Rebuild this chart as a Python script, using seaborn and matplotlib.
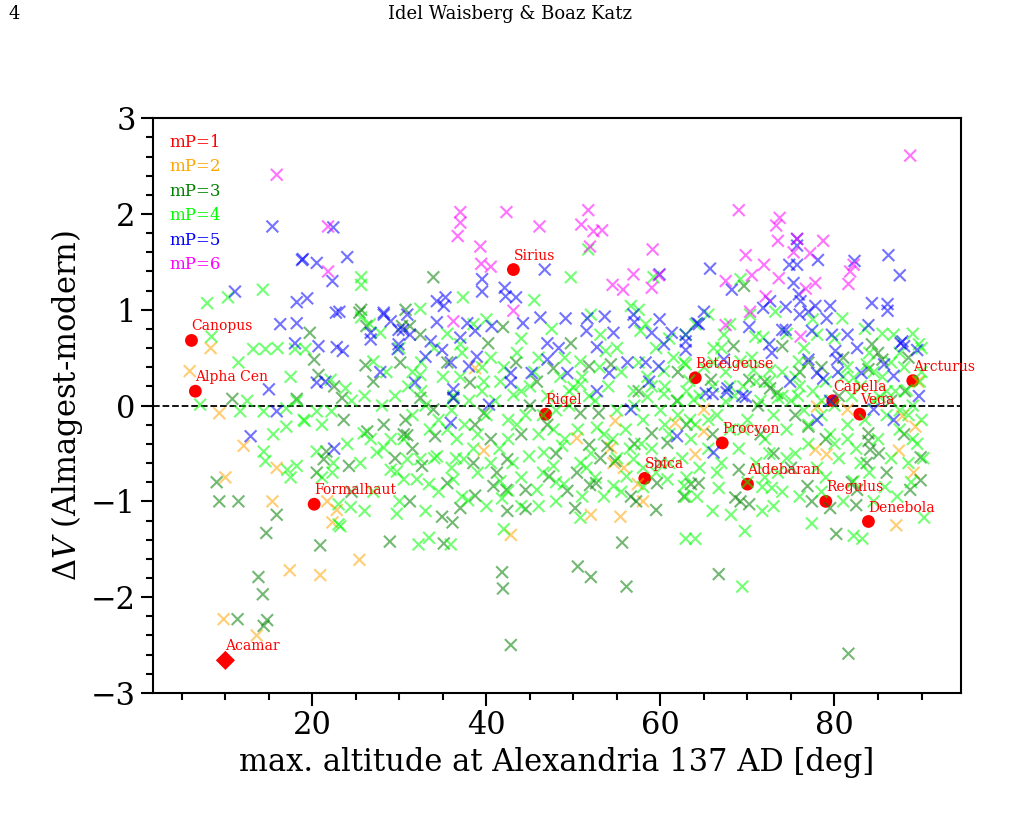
import numpy as np
import pandas as pd
import matplotlib
matplotlib.use("Agg")
import matplotlib.pyplot as plt
import seaborn as sns
from matplotlib.ticker import MultipleLocator
from matplotlib.lines import Line2D

# --- data: (max altitude [deg], delta V) per Ptolemy magnitude class ---
mp2_x = [8.3, 5.9, 9.3, 12.1, 15.9, 10.0, 15.4, 21.7, 22.8, 22.3, 25.4, 17.4, 20.9, 9.8, 13.6,
         42.8, 52.0, 55.4, 58.0, 57.4, 54.6, 55.8, 50.4, 39.7, 54.8, 54.3, 61.7, 89.6, 65.0, 87.1,
         89.1, 87.4, 89.3, 87.8, 65.0, 77.8, 79.1, 64.0, 38.7, 81.5, 78.0]
mp2_y = [0.60, 0.36, -0.08, -0.42, -0.65, -0.75, -1.00, -1.00, -1.09, -1.22, -1.61, -1.72, -1.77, -2.23, -2.40,
         -1.35, -1.14, -1.16, -1.00, -0.82, -0.60, -0.65, -0.34, -0.47, -0.16, -0.44, -0.18, 0.25, -0.04, -1.25,
         -0.70, -0.47, -0.22, -0.11, -0.27, -0.46, -0.51, -0.51, 0.39, -0.04, -0.01]

mp3_x = [25.6, 26.2, 30.7, 30.3, 19.7, 10.8, 18.2, 9.0, 9.3, 11.5, 15.9, 21.3, 21.6, 24.2, 20.5,
         26.3, 28.2, 30.5, 23.6, 20.2, 20.7, 22.5, 23.4, 25.4, 26.1, 30.1,
         14.7, 20.9, 28.9, 13.8, 14.3, 11.4, 14.8, 14.4,
         33.9, 31.2, 32.4, 40.2, 41.9, 43.4, 47.7, 49.7, 51.8, 54.3, 38.1, 45.8, 32.4, 36.2, 61.9,
         68.4, 84.3, 85.5, 65.8, 70.2, 72.0, 72.6, 73.4, 83.9, 88.1, 71.2, 69.6,
         42.8, 41.8, 41.9, 50.5, 52.0, 56.1, 55.6, 35.1, 34.9, 36.1, 31.2, 37.0, 38.7, 42.4, 44.5,
         44.5, 40.8, 41.2, 42.3, 42.4, 35.5, 32.6, 34.1, 30.9, 30.7, 38.5, 40.5, 47.2, 49.3, 50.2,
         50.4, 51.9, 52.6, 51.8, 53.1, 53.9, 56.6, 57.2, 59.5, 59.6, 62.7, 63.5, 59.0, 60.8, 47.0,
         50.8, 52.9, 33.9, 38.7, 39.7, 54.8,
         81.6, 66.7, 80.2, 77.4, 76.9, 79.5, 82.5, 68.6, 69.2, 70.2, 69.0, 64.4, 82.0, 82.6, 83.9,
         83.9, 84.1, 83.7, 85.1, 89.9, 89.9, 88.7, 77.0,
         88.0, 86.5, 80.5, 75.5, 73.0, 66.0, 63.0, 78.5, 76.0, 62.0, 57.5, 45.0, 35.5, 27.0, 29.5,
         24.5, 31.5, 48.0, 44.0, 57.0, 60.0, 71.5, 75.0, 79.0, 86.0, 81.0, 88.5, 85.0, 74.0, 77.0]
mp3_y = [1.00, 0.83, 1.00, 0.83, 0.76, 0.07, 0.07, -0.80, -1.00, -1.00, -1.14, -0.56, -0.48, -0.63, -0.70,
         -0.27, -0.20, -0.30, -0.15, 0.48, 0.32, 0.20, 0.08, 0.97, 0.42, 0.45,
         -1.33, -1.46, -1.42, -1.79, -1.97, -2.23, -2.24, -2.30,
         1.34, 0.83, 0.74, 0.65, 0.82, 0.45, 0.39, 0.65, 0.41, 0.43, 0.24, 0.25, 0.08, 0.08, 0.05,
         0.62, 0.64, 0.48, 0.27, 0.27, 0.25, 0.18, 0.13, 0.38, 0.15, 0.00, 1.25,
         -2.50, -1.74, -1.91, -1.68, -1.79, -1.89, -1.43, -1.44, -1.16, -1.22, -1.00, -1.07, -0.94, -1.10, -1.08,
         -0.88, -0.84, -0.70, -0.88, -0.56, -0.81, -0.63, -0.32, -0.31, -0.15, -0.60, -0.35, -0.74, -0.89, -1.07,
         -0.70, -0.83, -0.81, -0.41, -0.55, -0.42, -0.95, -1.00, -1.09, -0.81, -0.95, -0.82, -0.29, -0.39, -0.20,
         -0.08, -0.08, -0.04, -0.20, -0.08, -0.58,
         -2.59, -1.76, -1.34, -1.00, -0.84, -1.07, -1.04, -0.96, -1.00, -1.03, -0.67, -0.81, -0.80, -0.88, -0.29,
         -0.37, -0.46, -0.60, -0.50, -0.54, -0.78, -0.88, -0.22,
         -0.30, 0.05, 0.10, -0.10, -0.50, -0.30, -0.20, 0.40, 0.35, 0.35, 0.15, 0.00, 0.45, 0.25, -0.55,
         -0.90, -0.45, -0.50, -0.30, -0.40, -0.60, -0.30, -0.65, -0.35, -0.70, 0.50, 0.50, 0.55, 0.62, 0.45]

mp4_x = [25.6, 25.6, 7.9, 10.3, 14.3, 25.6, 26.6, 27.8, 8.4, 11.5, 13.2, 14.6, 7.1, 11.7, 14.4,
         17.0, 18.2, 19.1, 17.0, 14.4, 14.6, 17.1, 18.2, 17.5, 20.5, 22.4, 22.3, 21.1, 25.9, 26.7,
         28.2, 27.4, 29.0, 29.0, 29.7, 30.9, 21.1, 19.0, 20.5, 22.2, 22.1, 23.8, 18.0, 19.2, 27.0,
         23.0, 24.4, 23.0, 23.2, 29.7,
         51.7, 49.7, 37.3, 32.4, 56.6, 59.2, 37.0, 37.2, 39.7, 41.6, 46.0, 50.8, 53.1, 53.7, 58.3,
         57.7, 60.4, 62.9, 62.7, 63.8, 50.8, 50.0, 51.8, 32.4, 39.5, 43.1, 56.9, 60.4, 58.5, 36.2,
         69.2, 70.3, 73.2, 80.9, 86.8, 89.7, 67.3, 66.1, 70.9, 71.8, 62.9, 66.1, 69.2, 70.7, 72.6,
         75.9, 78.0, 82.2, 83.7, 85.2, 88.3, 63.3, 67.5, 73.5, 75.8,
         32.2, 33.4, 35.9, 42.0, 50.8, 62.9, 64.0, 30.5, 32.0, 33.4, 36.2, 37.2, 37.9, 32.4, 34.3,
         37.4, 41.6, 42.5, 41.8, 43.5, 44.9, 46.6, 45.8, 47.7, 48.9, 50.8, 48.7, 47.7, 54.6, 56.1,
         56.9, 52.7, 57.8, 60.8, 62.7, 63.4, 36.6, 42.5,
         69.4, 69.7, 68.1, 71.7, 77.4, 82.2, 83.2, 90.3, 66.7, 71.7, 72.8, 62.9, 64.2, 82.2,
         31.0, 33.0, 34.5, 35.0, 36.0, 37.5, 38.0, 39.0, 40.0, 41.0, 41.5, 42.0, 43.0, 44.0, 44.5,
         45.5, 46.0, 47.0, 48.0, 48.5, 49.0, 49.5, 50.5, 51.0, 52.0, 52.5, 53.5, 54.0, 55.0, 55.5,
         56.0, 57.0, 58.0, 58.5, 59.0, 60.0, 60.5, 61.0, 61.5, 62.0, 62.5, 63.0, 64.0, 64.5, 65.5,
         66.0, 66.5, 67.0, 67.5, 68.0, 68.5, 69.0, 69.5, 70.0, 70.5, 71.0, 71.5, 72.0, 72.5, 73.0,
         73.5, 74.0, 74.5, 75.0, 75.5, 76.0, 76.5, 77.0, 77.5, 78.0, 78.5, 79.0, 79.5, 80.0, 80.5,
         81.0, 81.5, 82.0, 82.5, 83.0, 83.5, 84.0, 84.5, 85.0, 85.5, 86.0, 86.5, 87.0, 87.5, 88.0,
         88.5, 89.0, 89.5, 90.0, 90.2, 89.8, 88.8, 87.2, 85.8, 84.5, 81.0, 78.5, 76.0, 74.0, 73.0,
         66.0, 64.5, 61.0, 59.5, 58.0, 55.5, 53.5, 51.0, 48.0, 46.0, 44.0, 40.0, 39.0, 36.0, 34.5,
         33.0, 30.0, 27.0, 26.0, 25.5, 24.0, 24.5, 26.0, 28.0, 29.5, 31.5, 32.5, 34.0, 35.5, 38.5,
         40.5, 44.0, 47.5, 52.0, 55.0, 59.5, 64.0, 65.5, 68.0, 74.5, 77.5, 80.0, 83.5, 85.5, 87.5,
         89.0, 57.5, 45.5, 40.0, 30.0, 28.5, 12.5, 15.5, 17.5, 16.0,
         30.5, 32.5, 34.0, 35.5, 37.0, 38.5, 40.5, 42.5, 44.0, 45.0, 46.5, 48.0, 49.5, 51.5, 53.0,
         54.5, 56.5, 57.5, 59.0, 60.5, 62.0, 63.5, 65.0, 66.5, 68.0, 69.5, 71.0, 72.5, 74.0, 75.5,
         77.0, 78.5, 80.0, 81.5, 83.0, 84.5, 86.0, 87.5, 89.0, 90.0,
         31.5, 33.5, 36.5, 39.5, 43.5, 46.5, 49.0, 52.5, 55.0, 58.0, 61.0, 63.0, 65.5, 67.0, 70.0,
         72.0, 74.5, 76.5, 79.0, 81.5, 84.0, 86.5, 88.5, 90.0]
mp4_y = [1.34, 1.26, 1.07, 1.13, 1.21, 0.92, 0.85, 0.76, 0.72, 0.45, 0.59, 0.59, 0.01, -0.06, -0.06,
         -0.22, 0.05, -0.16, -0.03, -0.48, -0.58, -0.67, -0.63, -0.75, -0.48, -0.60, -0.70, -0.75, -0.29, -0.35,
         -0.44, -0.49, -0.35, -0.67, -0.69, -0.56, -0.20, -0.15, -0.06, -0.06, 0.27, 0.18, 0.59, 0.59, 0.46,
         -1.03, -1.06, -1.24, -1.26, -1.13,
         1.63, 1.34, 1.13, 1.01, 1.04, 1.34, 0.64, 0.55, 0.25, 0.25, 0.50, 0.22, 0.74, 0.57, 0.85,
         0.78, 0.36, 0.74, 0.45, 0.06, 0.46, 0.19, 0.10, 0.32, 0.15, 0.11, 0.15, 0.12, 0.09, 0.10,
         1.32, 0.95, 0.98, 0.91, 0.74, 0.64, 0.74, 0.60, 0.72, 0.71, 0.43, 0.45, 0.46, 0.37, 0.37,
         0.46, 0.74, 0.29, 0.43, 0.09, 0.16, 0.26, 0.04, 0.08, 0.10,
         -1.45, -1.38, -1.45, -1.29, -1.17, -1.39, -1.39, -0.77, -0.77, -0.82, -0.77, -0.95, -0.99, -0.56, -0.53,
         -0.56, -0.79, -0.89, -0.97, -0.20, -0.53, -0.49, -0.88, -0.63, -0.82, -0.60, -0.42, -0.25, -0.84, -0.74,
         -0.56, -0.23, -0.40, -0.77, -0.84, -0.15, -0.35, -0.35,
         -1.89, -1.31, -1.14, -1.10, -1.23, -1.36, -1.39, -1.17, -0.86, -0.85, -0.86, -0.95, -0.95, -0.79,
         0.20, 0.00, -0.15, 0.30, -0.05, -0.20, 0.05, -0.30, -0.10, 0.05, -0.45, 0.40, -0.60, 0.15, -0.10,
         0.35, -0.30, 0.10, -0.05, 0.30, -0.35, 0.00, -0.25, 0.30, -0.50, 0.05, -0.30, 0.20, -0.05, 0.35,
         -0.25, 0.00, -0.15, 0.30, -0.45, -0.05, 0.20, -0.30, 0.50, -0.10, -0.55, 0.15, -0.20, 0.10, -0.45,
         0.20, -0.10, -0.60, 0.35, -0.25, 0.10, -0.45, 0.20, -0.15, 0.50, -0.60, 0.05, -0.35, 0.25, -0.10,
         -0.70, 0.35, -0.25, 0.05, -0.50, 0.20, -0.05, -0.40, 0.15, -0.65, -0.10, 0.25, -0.30, 0.00, -0.55,
         0.30, -0.20, 0.10, -0.45, 0.20, -0.15, -0.70, 0.05, -0.35, 0.30, -0.10, -0.55, 0.15, -0.25, 0.40,
         -0.60, 0.00, -0.40, -0.15, -0.55, 0.25, -0.80, -0.95, -0.85, -1.00, -1.00, -0.90, -0.95, -0.90, -1.05,
         -1.10, -0.65, -0.60, -0.70, -0.65, -0.90, -0.95, -0.95, -1.00, -1.05, -1.05, -1.05, -0.70, -0.65, -0.90,
         -1.10, -1.00, -0.90, -1.10, -0.60, -0.40, 0.05, 0.10, 0.00, 0.10, -0.10, 0.45, 0.60, 0.75, 0.85,
         0.50, 0.70, 0.80, 0.95, 0.60, 0.60, 0.85, 0.95, 0.85, 0.75, 0.90, 0.70, 0.80, 0.75, 0.55,
         0.75, 1.00, 1.10, 0.90, 0.60, 0.35, 0.05, -0.30, 0.30, 0.60,
         -0.35, 0.15, -0.55, -0.25, 0.30, -0.45, -0.60, -0.15, -0.75, 0.20, -0.10, -0.80, 0.15, -0.65, 0.40,
         -0.35, -0.45, 0.45, 0.20, -0.20, 0.05, -0.35, 0.40, -0.70, 0.20, -0.25, 0.25, -0.50, 0.10, 0.30,
         -0.20, 0.05, -0.40, 0.40, -0.60, 0.35, 0.15, -0.05, -0.35, 0.60,
         0.35, -0.25, -0.55, 0.40, 0.55, -0.70, 0.50, -0.75, -0.55, -0.85, 0.70, -0.75, -0.15, 0.60, -0.80,
         -0.75, -0.55, 0.60, -0.75, -0.35, 0.55, 0.45, -0.10, 0.35]

mp5_x = [15.4, 22.4, 18.8, 18.9, 20.5, 24.0, 22.3, 11.1, 18.2, 19.4, 23.1, 28.2, 29.0, 29.9, 30.9,
         16.3, 18.2, 26.7, 29.9, 15.0, 15.9, 12.9, 22.5, 20.5, 21.5, 18.0, 20.7, 22.8, 23.5, 22.7,
         28.2, 26.7, 29.8, 27.8,
         46.7, 39.5, 39.5, 42.1, 42.2, 43.4, 34.3, 35.3, 35.1, 46.2, 49.1, 51.6, 53.6, 51.5, 54.6,
         44.2, 40.6, 37.8, 38.7, 34.3, 30.4, 31.2, 33.6, 37.0, 34.9, 47.0, 48.3, 52.7, 56.9, 57.0,
         59.0, 59.9, 61.3, 62.9, 64.2, 60.4, 38.9, 33.0, 35.9, 47.0, 49.3, 45.2, 42.8, 42.8, 54.1,
         56.2, 58.3, 59.8, 31.8, 36.2, 52.7, 58.7, 59.9, 38.0,
         65.7, 68.2, 74.8, 75.7, 78.1, 82.3, 86.2, 87.5, 75.3, 75.9, 75.7, 75.7, 72.6, 71.8, 74.4,
         76.1, 76.0, 77.0, 77.8, 79.1, 79.5, 65.0, 64.4, 70.2, 74.0, 74.4, 77.4, 79.7, 81.5, 83.9,
         84.3, 86.1, 86.1, 87.6, 87.8, 88.0, 89.5, 62.9, 62.9, 67.3, 72.5, 72.8, 77.0, 80.1, 80.3,
         82.6, 85.7, 86.8, 78.0, 78.7, 80.4, 83.1, 89.7, 69.4, 67.7, 66.0, 74.9,
         78.0, 86.8, 66.1, 84.5, 65.2, 67.6, 69.8, 79.5, 61.9, 35.9, 56.6, 40.3, 36.2]
mp5_y = [1.87, 1.86, 1.52, 1.53, 1.49, 1.55, 1.30, 1.19, 1.08, 1.12, 0.98, 0.97, 0.88, 0.79, 0.95,
         0.85, 0.86, 0.76, 0.64, 0.17, -0.06, -0.32, -0.45, 0.24, 0.25, 0.65, 0.62, 0.61, 0.57, 0.97,
         0.95, 0.69, 0.59, 0.35,
         1.42, 1.32, 1.19, 1.23, 1.14, 1.13, 1.09, 1.13, 1.04, 0.92, 0.91, 0.91, 0.93, 0.78, 0.76,
         0.86, 0.83, 0.86, 0.78, 0.87, 0.79, 0.74, 0.67, 0.71, 0.58, 0.65, 0.60, 0.61, 0.95, 0.87,
         0.76, 0.90, 0.76, 0.67, 0.86, 0.64, 0.51, 0.51, 0.45, 0.48, 0.34, 0.34, 0.34, 0.24, 0.34,
         0.45, 0.45, 0.41, 0.24, 0.17, 0.15, 0.25, 1.37, 0.41,
         1.43, 1.21, 1.47, 1.47, 1.52, 1.51, 1.57, 1.36, 1.28, 1.16, 1.74, 1.67, 1.09, 1.02, 1.03,
         1.09, 0.95, 0.98, 1.04, 0.91, 1.04, 0.98, 0.85, 0.82, 0.79, 0.79, 0.78, 0.74, 0.74, 0.84,
         1.07, 1.06, 0.99, 0.65, 0.67, 0.62, 0.58, 0.74, 0.58, 0.48, 0.64, 0.55, 0.48, 0.57, 0.48,
         0.60, 0.43, 0.31, 0.34, 0.28, 0.35, 0.34, 0.10, 0.10, 0.18, 0.12, 0.25,
         -0.15, -0.15, -0.49, -0.04, 0.13, 0.14, 0.09, 0.05, -0.32, -0.18, -0.04, 0.01, 0.08]

mp6_x = [15.9, 21.8, 21.8, 37.0, 37.0, 36.7, 42.3, 46.1, 50.9, 51.7, 52.3, 53.3, 51.9, 39.3, 39.4,
         40.5, 59.1, 56.9, 54.5, 55.7, 59.0, 59.8, 43.1, 36.2, 88.7, 69.0, 73.7, 73.3, 73.5, 78.7,
         75.7, 69.8, 71.9, 70.5, 67.5, 73.6, 75.3, 77.2, 76.7, 77.8, 81.8, 82.2, 81.6, 72.1, 70.3,
         67.5, 76.1]
mp6_y = [2.41, 1.87, 1.40, 2.02, 1.91, 1.77, 2.02, 1.87, 1.89, 2.04, 1.82, 1.83, 1.66, 1.66, 1.48,
         1.45, 1.63, 1.37, 1.26, 1.21, 1.23, 1.36, 0.99, 0.88, 2.61, 2.04, 1.96, 1.88, 1.72, 1.72,
         1.74, 1.57, 1.47, 1.36, 1.30, 1.33, 1.60, 1.59, 1.22, 1.28, 1.40, 1.47, 1.27, 1.14, 0.98,
         0.84, 0.72]

# bright named stars (mP=1)
bright_names = ["Canopus", "Alpha Cen", "Sirius", "Rigel", "Betelgeuse", "Capella", "Vega",
                "Arcturus", "Procyon", "Aldebaran", "Spica", "Regulus", "Denebola", "Formalhaut"]
bright_x = [6.1, 6.55, 43.1, 46.8, 64.0, 79.8, 82.9, 89.0, 67.1, 70.0, 58.2, 79.0, 83.9, 20.2]
bright_y = [0.68, 0.15, 1.42, -0.09, 0.29, 0.05, -0.09, 0.26, -0.39, -0.82, -0.76, -1.00, -1.21, -1.03]
acamar_x = [10.0]
acamar_y = [-2.66]

mp_labels = ["mP=1", "mP=2", "mP=3", "mP=4", "mP=5", "mP=6"]
mp_colors = ["red", "orange", "green", "lime", "blue", "magenta"]

plt.rcParams["font.family"] = ["DejaVu Serif"]
plt.rcParams["mathtext.fontset"] = "dejavuserif"

frames = []
for lab, xs, ys in zip(mp_labels[1:], [mp2_x, mp3_x, mp4_x, mp5_x, mp6_x],
                       [mp2_y, mp3_y, mp4_y, mp5_y, mp6_y]):
    frames.append(pd.DataFrame({"alt": xs, "dV": ys, "mP": lab}))
df = pd.concat(frames, ignore_index=True)
df_bright = pd.DataFrame({"alt": bright_x, "dV": bright_y, "name": bright_names})

fig = plt.figure(figsize=(10.2, 8.21), dpi=100)
ax = fig.add_axes([0.150, 0.156, 0.792, 0.700])

# named bright stars first, crosses drawn over them
sns.scatterplot(data=df_bright, x="alt", y="dV", color="red", s=85, edgecolor="none",
                legend=False, ax=ax, zorder=2)
ax.scatter(acamar_x, acamar_y, marker="D", color="red", s=95, edgecolor="none", zorder=2)

palette = dict(zip(mp_labels, mp_colors))
sns.scatterplot(data=df, x="alt", y="dV", hue="mP", palette=palette, marker="x",
                s=72, linewidth=1.5, alpha=0.55, legend=False, ax=ax, zorder=3)

for n, xv, yv in zip(bright_names + ["Acamar"], bright_x + acamar_x, bright_y + acamar_y):
    ax.annotate(n, (xv, yv), xytext=(0, 5), textcoords="offset points",
                color="red", fontsize=10, ha="left", va="bottom", zorder=4)

ax.axhline(0, color="black", linestyle="--", linewidth=1.3, zorder=1)

# text-only legend
handles = [Line2D([], [], linestyle="none") for _ in mp_labels]
ax.legend(handles, mp_labels, labelcolor=mp_colors, loc="upper left", frameon=False,
          handlelength=0, handletextpad=0, fontsize=12, labelspacing=0.45,
          borderaxespad=0.0, bbox_to_anchor=(0.012, 0.985))

ax.set_ylim(-3, 3)
ax.margins(x=0.05)
ax.xaxis.set_major_locator(MultipleLocator(20))
ax.xaxis.set_minor_locator(MultipleLocator(5))
ax.yaxis.set_major_locator(MultipleLocator(1))
ax.yaxis.set_minor_locator(MultipleLocator(0.2))
ax.tick_params(which="major", direction="out", length=9, width=1.5, labelsize=22)
ax.tick_params(which="minor", direction="out", length=5, width=1.5)
for sp in ax.spines.values():
    sp.set_linewidth(1.5)

ax.set_xlabel("max. altitude at Alexandria 137 AD [deg]", fontsize=22)
ax.set_ylabel(r"$\Delta V$ (Almagest-modern)", fontsize=22)

fig.text(0.008, 0.983, "4", fontsize=13, va="center", ha="left")
fig.text(0.5, 0.983, "Idel Waisberg & Boaz Katz", fontsize=13, va="center", ha="center")

fig.savefig("out.png", dpi=100)
